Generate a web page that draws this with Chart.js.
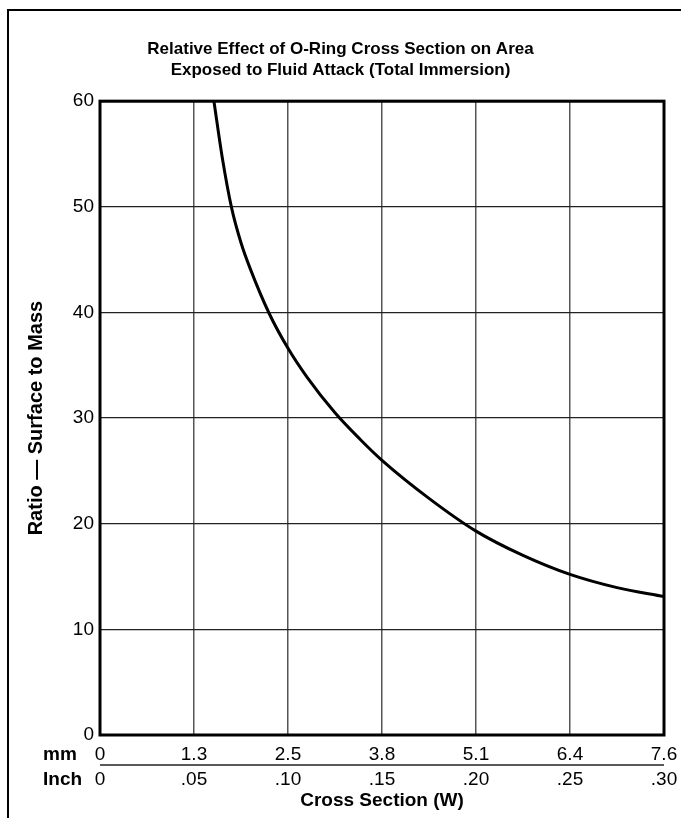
<!DOCTYPE html>
<html>
<head>
<meta charset="utf-8">
<script src="https://cdn.jsdelivr.net/npm/chart.js@4.4.1/dist/chart.umd.min.js"></script>
<style>
  html, body { margin: 0; padding: 0; background: #fff; }
  #wrap { position: relative; width: 681px; height: 818px; }
</style>
</head>
<body>
<div id="wrap"><canvas id="chart"></canvas></div>
<script>
// cross section W in inches
const crossSectionIn = [0.0606, 0.065, 0.070, 0.075, 0.080, 0.090, 0.100, 0.110, 0.125,
                        0.1383, 0.150, 0.175, 0.200, 0.225, 0.250, 0.275, 0.300];
// surface to mass ratio
const ratio = [60, 54.7, 49.9, 46.6, 44.1, 39.9, 36.6, 33.9, 30.5,
               28.0, 26.0, 22.4, 19.3, 17.0, 15.2, 13.95, 13.1];

// tick labels (two rows under the x axis)
const mmLabels = ['0', '1.3', '2.5', '3.8', '5.1', '6.4', '7.6'];
const inchLabels = ['0', '.05', '.10', '.15', '.20', '.25', '.30'];
const rowNames = ['mm', 'Inch'];

const titleLines = ['Relative Effect of O-Ring Cross Section on Area',
                    'Exposed to Fluid Attack (Total Immersion)'];

const FONT = 'Arial, "Liberation Sans", Helvetica, sans-serif';

const points = crossSectionIn.map((x, i) => ({ x: x, y: ratio[i] }));

// frame, plot border, mm/inch row names and separator
const decorations = {
    id: 'decorations',
    afterDraw(chart) {
        const ctx = chart.ctx;
        const area = chart.chartArea;
        const xs = chart.scales.x;
        ctx.save();

        // outer frame (left + top)
        ctx.strokeStyle = '#000';
        ctx.lineWidth = 2;
        ctx.beginPath();
        ctx.moveTo(8, 818);
        ctx.lineTo(8, 10);
        ctx.lineTo(681, 10);
        ctx.stroke();

        // plot border
        ctx.lineWidth = 3;
        ctx.strokeRect(area.left, area.top, area.right - area.left, area.bottom - area.top);

        // separator between mm and inch rows
        ctx.lineWidth = 1.5;
        ctx.strokeStyle = '#222';
        ctx.beginPath();
        ctx.moveTo(area.left, xs.top + 30);
        ctx.lineTo(area.right, xs.top + 30);
        ctx.stroke();

        // row names
        ctx.fillStyle = '#000';
        ctx.font = 'bold 19px ' + FONT;
        ctx.textAlign = 'left';
        ctx.textBaseline = 'middle';
        ctx.fillText(rowNames[0], 43, xs.top + 20);
        ctx.fillText(rowNames[1], 43, xs.top + 45);
        ctx.restore();
    }
};

new Chart(document.getElementById('chart'), {
    type: 'line',
    data: {
        datasets: [{
            data: points,
            borderColor: '#000',
            borderWidth: 3,
            pointRadius: 0,
            fill: false,
            cubicInterpolationMode: 'monotone'
        }]
    },
    options: {
        responsive: true,
        maintainAspectRatio: false,
        animation: false,
        layout: { padding: { left: 17, right: 17, top: 0, bottom: 0 } },
        plugins: {
            legend: { display: false },
            tooltip: { enabled: false },
            title: {
                display: true,
                text: titleLines,
                color: '#000',
                font: { family: FONT, size: 17, weight: 'bold', lineHeight: 1.24 },
                padding: { top: 38.5, bottom: 20.5 }
            }
        },
        scales: {
            x: {
                type: 'linear',
                min: 0,
                max: 0.30,
                afterFit(scale) {
                    scale.height = 83;
                    // let the end labels hang past the plot edge
                    scale.paddingLeft = 0;
                    scale.paddingRight = 0;
                },
                ticks: {
                    stepSize: 0.05,
                    color: '#000',
                    padding: 7,
                    maxRotation: 0,
                    font: { family: FONT, size: 19, lineHeight: 1.32 },
                    callback: (value, index) => [mmLabels[index], inchLabels[index]]
                },
                grid: { color: '#555', lineWidth: 1.5, drawTicks: false },
                border: { display: false },
                title: {
                    display: true,
                    text: 'Cross Section (W)',
                    color: '#000',
                    font: { family: FONT, size: 19, weight: 'bold' },
                    padding: { top: 0, bottom: 6 }
                }
            },
            y: {
                min: 0,
                max: 60,
                afterFit(scale) { scale.width = 83; },
                ticks: {
                    stepSize: 10,
                    color: '#000',
                    padding: 6,
                    font: { family: FONT, size: 19 }
                },
                grid: { color: '#222', lineWidth: 1.2, drawTicks: false },
                border: { display: false },
                title: {
                    display: true,
                    text: 'Ratio \u2014 Surface to Mass',
                    color: '#000',
                    font: { family: FONT, size: 20, weight: 'bold' },
                    padding: { top: 7, bottom: 0 }
                }
            }
        }
    },
    plugins: [decorations]
});
</script>
</body>
</html>
